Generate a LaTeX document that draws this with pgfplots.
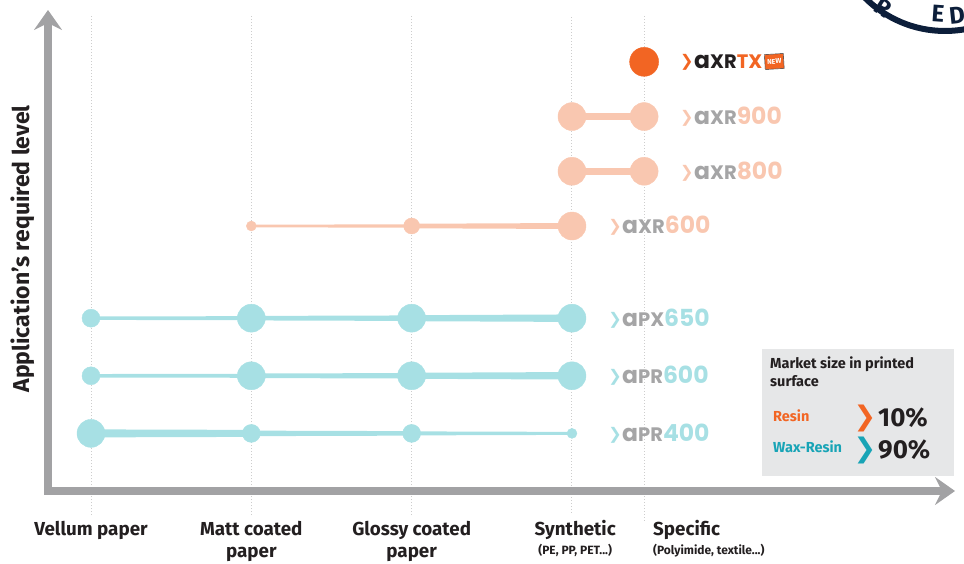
\documentclass[border=0pt]{standalone}
\usepackage{fontspec}
\setmainfont{Fira Sans}
\newfontfamily\logofont{Poppins}
\newfontfamily\symfont{DejaVu Sans}
\usepackage{graphicx}
\usepackage{pgfplots}
\pgfplotsset{compat=1.18}
\usetikzlibrary{arrows.meta}
\definecolor{cyanc}{RGB}{167,224,228}
\definecolor{peach}{RGB}{249,199,176}
\definecolor{orangeb}{RGB}{242,101,35}
\definecolor{logogray}{RGB}{165,165,166}
\definecolor{axisgray}{RGB}{162,162,164}
\definecolor{tealc}{RGB}{24,164,182}
\definecolor{legbg}{RGB}{230,231,232}
\definecolor{darkc}{RGB}{35,31,32}
\definecolor{navy}{RGB}{12,30,58}
\definecolor{gridc}{RGB}{205,205,205}
\newcommand{\chev}[1]{\raisebox{2pt}{\textcolor{#1}{\symfont\bfseries\fontsize{16}{16}\selectfont ❯}}\hspace{0.5pt}}
\newcommand{\plab}[4]{{\chev{#1}\logofont\bfseries\fontsize{23.5}{23.5}\selectfont\textcolor{#2}{a{\fontsize{19.5}{19.5}\selectfont #3}}\textcolor{#1}{#4}}}
\begin{document}
\begin{tikzpicture}
\path[use as bounding box] (0,0) rectangle (964pt,564pt);
\clip (0,0) rectangle (964pt,564pt);
% partial badge top right
\draw[navy, line width=6pt] (945pt,646pt) circle (113pt);
\node[navy, font=\bfseries\fontsize{24}{24}\selectfont, rotate=-33] at (883pt,556pt) {R};
\node[navy, font=\bfseries\fontsize{24}{24}\selectfont, rotate=-4] at (938pt,550pt) {E};
\node[navy, font=\bfseries\fontsize{24}{24}\selectfont, rotate=6] at (957pt,549pt) {D};
\begin{axis}[
  at={(48pt,73pt)}, anchor=south west,
  scale only axis, width=907pt, height=481pt,
  xmin=-0.2682, xmax=5.389, ymin=0, ymax=8.35,
  axis lines=left,
  axis line style={line width=8pt, draw=axisgray, line cap=rect},
  x axis line style={-{Stealth[length=20pt,width=28pt,inset=7pt]}},
  y axis line style={-{Stealth[length=20pt,width=28pt,inset=7pt]}},
  xtick=\empty, ytick=\empty,
  clip=false, axis on top,
]
% dotted guide lines
\addplot[gridc, line width=1pt, dash pattern=on 1pt off 2pt] coordinates {(0,-0.42) (0,8.26)};
\addplot[gridc, line width=1pt, dash pattern=on 1pt off 2pt] coordinates {(1,-0.42) (1,8.26)};
\addplot[gridc, line width=1pt, dash pattern=on 1pt off 2pt] coordinates {(2,-0.42) (2,8.26)};
\addplot[gridc, line width=1pt, dash pattern=on 1pt off 2pt] coordinates {(3,-0.38) (3,8.26)};
\addplot[gridc, line width=1pt, dash pattern=on 1pt off 2pt] coordinates {(3.45,-0.52) (3.45,8.26)};
% tapered connecting bands
\addplot[fill=cyanc, draw=none] coordinates {(0,3.0304) (1,3.0347) (1,3.0391) (2,3.0477) (2,3.0521) (3,3.0651) (3,2.9349) (2,2.9479) (2,2.9523) (1,2.9609) (1,2.9653) (0,2.9696)};
\addplot[fill=cyanc, draw=none] coordinates {(0,2.0304) (1,2.0347) (1,2.0391) (2,2.0477) (2,2.0521) (3,2.0651) (3,1.9349) (2,1.9479) (2,1.9523) (1,1.9609) (1,1.9653) (0,1.9696)};
\addplot[fill=cyanc, draw=none] coordinates {(0,1.0694) (1,1.0608) (1,1.0477) (2,1.0391) (2,1.0347) (3,1.026) (3,0.974) (2,0.9653) (2,0.9609) (1,0.9523) (1,0.9392) (0,0.9306)};
\addplot[fill=peach, draw=none] coordinates {(1,4.6217) (2,4.6304) (2,4.6391) (3,4.6521) (3,4.5479) (2,4.5609) (2,4.5696) (1,4.5783)};
\addplot[fill=peach, draw=none] coordinates {(3,5.6064) (3.45,5.6064) (3.45,5.4936) (3,5.4936)};
\addplot[fill=peach, draw=none] coordinates {(3,6.5564) (3.45,6.5564) (3.45,6.4436) (3,6.4436)};
% bubbles
\addplot[only marks, mark=*, color=cyanc, mark size=14pt] coordinates {(1,3) (2,3) (3,3) (1,2) (2,2) (3,2) (0,1)};
\addplot[only marks, mark=*, color=cyanc, mark size=9pt] coordinates {(0,3) (0,2) (1,1) (2,1)};
\addplot[only marks, mark=*, color=cyanc, mark size=5pt] coordinates {(3,1)};
\addplot[only marks, mark=*, color=peach, mark size=14pt] coordinates {(3,4.6) (3,5.55) (3.45,5.55) (3,6.5) (3.45,6.5)};
\addplot[only marks, mark=*, color=peach, mark size=8pt] coordinates {(2,4.6)};
\addplot[only marks, mark=*, color=peach, mark size=5pt] coordinates {(1,4.6)};
\addplot[only marks, mark=*, color=orangeb, mark size=14.5pt] coordinates {(3.45,7.45)};
% product labels
\node[anchor=west, inner sep=0pt] at (axis cs:3.225,1) {\plab{cyanc}{logogray}{PR}{400}};
\node[anchor=west, inner sep=0pt] at (axis cs:3.225,2) {\plab{cyanc}{logogray}{PR}{600}};
\node[anchor=west, inner sep=0pt] at (axis cs:3.225,3) {\plab{cyanc}{logogray}{PX}{650}};
\node[anchor=west, inner sep=0pt] at (axis cs:3.225,4.6) {\plab{peach}{logogray}{XR}{600}};
\node[anchor=west, inner sep=0pt] at (axis cs:3.674,5.55) {\plab{peach}{logogray}{XR}{800}};
\node[anchor=west, inner sep=0pt] at (axis cs:3.674,6.5) {\plab{peach}{logogray}{XR}{900}};
\node[anchor=west, inner sep=0pt] at (axis cs:3.674,7.45) {{\chev{orangeb}\logofont\bfseries\fontsize{23.5}{23.5}\selectfont\textcolor{darkc}{a{\fontsize{19.5}{19.5}\selectfont XR}}\textcolor{orangeb}{{\fontsize{19.5}{19.5}\selectfont TX}}}\hspace{2pt}\raisebox{4pt}{\rotatebox{3}{\setlength{\fboxsep}{0.8pt}\fcolorbox{darkc}{orangeb}{\makebox[17pt]{\rule[-4pt]{0pt}{13pt}\fontsize{7}{7}\selectfont\bfseries\color{white}NEW}}}}};
% category labels
\node[anchor=base, inner sep=0pt, darkc, font=\bfseries\fontsize{18.8}{18.8}\selectfont] at (axis cs:0,-0.781) {Vellum paper};
\node[anchor=base, inner sep=0pt, darkc, font=\bfseries\fontsize{18.8}{18.8}\selectfont] at (axis cs:1,-0.781) {Matt coated};
\node[anchor=base, inner sep=0pt, darkc, font=\bfseries\fontsize{18.8}{18.8}\selectfont] at (axis cs:1,-1.146) {paper};
\node[anchor=base, inner sep=0pt, darkc, font=\bfseries\fontsize{18.8}{18.8}\selectfont] at (axis cs:2,-0.781) {Glossy coated};
\node[anchor=base, inner sep=0pt, darkc, font=\bfseries\fontsize{18.8}{18.8}\selectfont] at (axis cs:2,-1.146) {paper};
\node[anchor=base, inner sep=0pt, darkc, font=\bfseries\fontsize{18.8}{18.8}\selectfont] at (axis cs:3.02,-0.781) {Synthetic};
\node[anchor=base, inner sep=0pt, darkc, font=\bfseries\fontsize{12}{12}\selectfont] at (axis cs:3.02,-1.094) {(PE, PP, PET...)};
\node[anchor=base west, inner sep=0pt, darkc, font=\bfseries\fontsize{18.8}{18.8}\selectfont] at (axis cs:3.505,-0.781) {Specific};
\node[anchor=base west, inner sep=0pt, darkc, font=\bfseries\fontsize{12}{12}\selectfont] at (axis cs:3.505,-1.094) {(Polyimide, textile...)};
\end{axis}
% y axis title
\node[rotate=90, darkc, font=\bfseries\fontsize{23}{23}\selectfont] at (23pt,315pt) {Application’s required level};
% market size box
\fill[legbg] (762pt,88pt) rectangle (954pt,215pt);
\node[anchor=base west, inner sep=0pt, darkc, font=\bfseries\fontsize{14.5}{14.5}\selectfont] at (770pt,195pt) {Market size in printed};
\node[anchor=base west, inner sep=0pt, darkc, font=\bfseries\fontsize{14.5}{14.5}\selectfont] at (770pt,177pt) {surface};
\node[anchor=base west, inner sep=0pt, orangeb, font=\bfseries\fontsize{14.5}{14.5}\selectfont] at (773pt,142pt) {Resin};
\node[anchor=base west, inner sep=0pt, tealc, font=\bfseries\fontsize{14.5}{14.5}\selectfont] at (773pt,111pt) {Wax-Resin};
\node[inner sep=0pt, orangeb, font=\symfont\bfseries\fontsize{27}{27}\selectfont] at (865pt,146pt) {❯};
\node[inner sep=0pt, tealc, font=\symfont\bfseries\fontsize{27}{27}\selectfont] at (865pt,114pt) {❯};
\node[anchor=base west, inner sep=0pt, darkc, font=\bfseries\fontsize{26}{26}\selectfont] at (878pt,137pt) {10\%};
\node[anchor=base west, inner sep=0pt, darkc, font=\bfseries\fontsize{26}{26}\selectfont] at (878pt,105pt) {90\%};
\end{tikzpicture}
\end{document}
